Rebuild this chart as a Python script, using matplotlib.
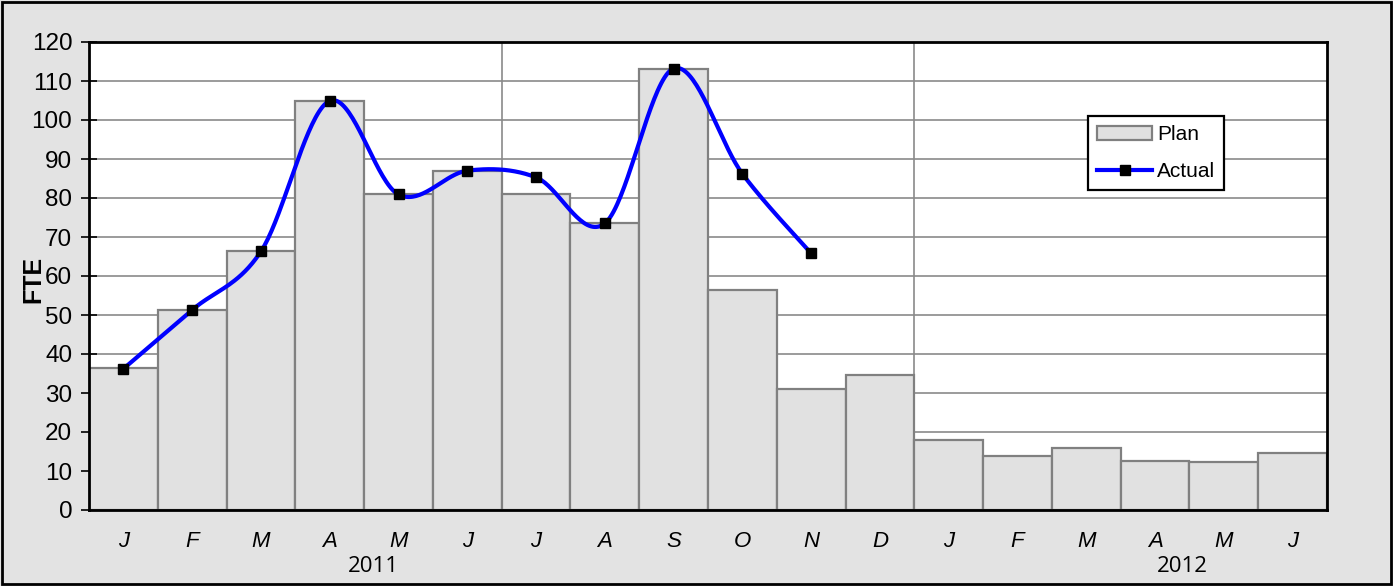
import numpy as np
import matplotlib
matplotlib.use('Agg')
import matplotlib.pyplot as plt
import matplotlib.transforms as mtransforms
from matplotlib.lines import Line2D
from matplotlib.patches import Patch, Rectangle

months = ['J', 'F', 'M', 'A', 'M', 'J', 'J', 'A', 'S', 'O', 'N', 'D',
          'J', 'F', 'M', 'A', 'M', 'J']
plan = [36.3, 51.4, 66.3, 104.9, 81.1, 87.0, 81.1, 73.5, 113.1, 56.3, 31.0, 34.5,
        17.9, 13.8, 16.0, 12.6, 12.2, 14.5]
actual = [36.2, 51.3, 66.3, 104.9, 80.9, 87.0, 85.3, 73.5, 113.2, 86.2, 65.8]
years = ['2011', '2012']
year_pos = [3.63, 15.4]  # where the year captions sit under the months


def smooth_curve(xs, ys, steps=40):
    # Catmull-Rom as bezier segments, roughly what excel does for "smoothed line"
    pts = np.column_stack([xs, ys]).astype(float)
    ext = np.vstack([pts[0], pts, pts[-1]])
    out = []
    t = np.linspace(0, 1, steps)[:, None]
    for i in range(len(pts) - 1):
        p0, p1, p2, p3 = ext[i], ext[i + 1], ext[i + 2], ext[i + 3]
        c1 = p1 + (p2 - p0) / 6
        c2 = p2 - (p3 - p1) / 6
        seg = (1 - t)**3 * p1 + 3 * (1 - t)**2 * t * c1 + 3 * (1 - t) * t**2 * c2 + t**3 * p2
        out.append(seg if i == 0 else seg[1:])
    return np.vstack(out)


plt.rcParams['font.family'] = ['Liberation Sans', 'DejaVu Sans']

bg = '#e3e3e3'
fig = plt.figure(figsize=(13.93, 5.86), dpi=100, facecolor=bg)
ax = fig.add_axes([89 / 1393, 76 / 586, 1238 / 1393, 468 / 586])
ax.set_facecolor('white')

x = np.arange(len(plan))
ax.bar(x, plan, width=1.0, color='#e1e1e1', edgecolor='#808080', linewidth=1.6, zorder=2)

xa = np.arange(len(actual))
curve = smooth_curve(xa, actual)
ax.plot(curve[:, 0], curve[:, 1], color='#0000ff', lw=3, zorder=3, solid_capstyle='round')
ax.plot(xa, actual, 's', color='black', ms=7.5, zorder=4)

ax.set_xlim(-0.5, len(plan) - 0.5)
ax.set_ylim(0, 120)
ax.set_yticks(range(0, 121, 10))
ax.yaxis.grid(True, color='#8a8a8a', lw=1.2)
ax.set_axisbelow(True)
for b in (5.5, 11.5):
    ax.axvline(b, color='#8a8a8a', lw=1.2, zorder=1)

ax.tick_params(axis='y', direction='inout', length=12, width=1.2, pad=6,
               labelsize=17.5, colors='black')
ax.set_xticks(x)
ax.set_xticklabels(months, fontstyle='italic', fontsize=16)
ax.tick_params(axis='x', which='major', length=0, pad=15)
ax.set_xticks(np.arange(0.5, len(plan) - 1, 1), minor=True)
ax.tick_params(axis='x', which='minor', direction='in', length=4, width=2, color='black')

for s in ax.spines.values():
    s.set_color('black')
    s.set_linewidth(2)

trans = mtransforms.blended_transform_factory(ax.transData, ax.transAxes)
for yr, px in zip(years, year_pos):
    ax.text(px, -0.12, yr, transform=trans, ha='center', va='center',
            fontsize=16, family=['Open Sans', 'DejaVu Sans'])

fig.text(33.5 / 1393, 1 - 279 / 586, 'FTE', rotation=90, fontweight='bold',
         fontsize=18, ha='center', va='center')

handles = [Patch(facecolor='#e1e1e1', edgecolor='#808080', linewidth=1.6, label='Plan'),
           Line2D([], [], color='#0000ff', lw=3, marker='s', mfc='black', mec='black',
                  ms=7.5, label='Actual')]
leg = ax.legend(handles=handles, loc='upper left', bbox_to_anchor=(0.807, 0.842),
                borderaxespad=0, fancybox=False, framealpha=1, edgecolor='black',
                fontsize=15, handlelength=2.6, handleheight=0.6, handletextpad=0.25,
                borderpad=0.45, labelspacing=0.85)
leg.get_frame().set_linewidth(1.6)

fig.patches.append(Rectangle((2 / 1393, 2 / 586), 1389 / 1393, 582 / 586,
                             transform=fig.transFigure, fill=False,
                             edgecolor='black', lw=2))

fig.savefig('out.png', dpi=100, facecolor=bg)
